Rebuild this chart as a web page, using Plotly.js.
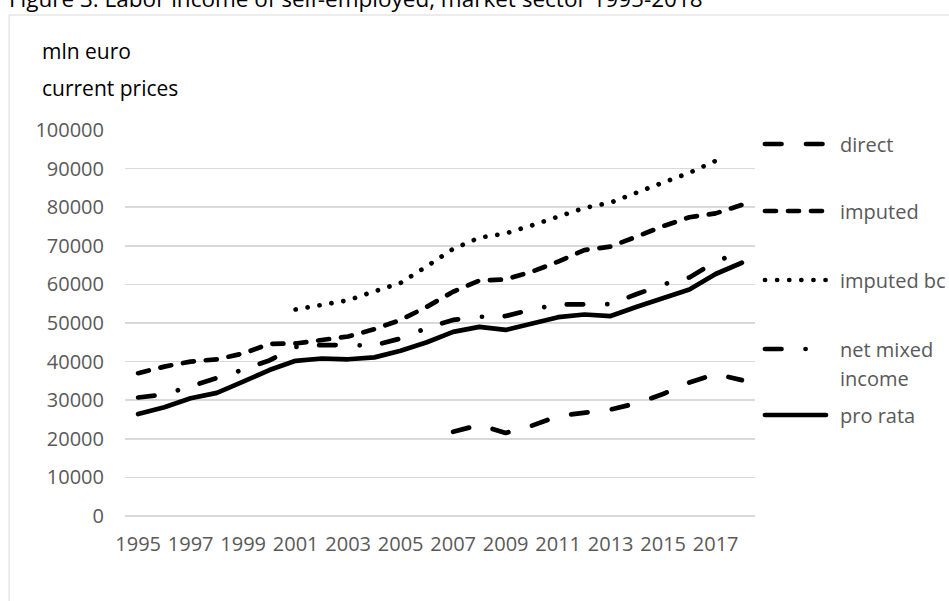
<!DOCTYPE html>
<html>
<head>
<meta charset="utf-8">
<script src="https://cdn.plot.ly/plotly-3.0.1.min.js"></script>
<style>
  html, body { margin: 0; padding: 0; background: #fff; }
  #chart { width: 949px; height: 601px; }
  .scatterlayer .js-line, .shapelayer path { stroke-linecap: round; stroke-linejoin: round; }
</style>
</head>
<body>
<div id="chart"></div>
<script>
// ---- data (mln euro, current prices) ----
const years = [1995, 1996, 1997, 1998, 1999, 2000, 2001, 2002, 2003, 2004, 2005, 2006,
               2007, 2008, 2009, 2010, 2011, 2012, 2013, 2014, 2015, 2016, 2017, 2018];
const tickYears = [1995, 1997, 1999, 2001, 2003, 2005, 2007, 2009, 2011, 2013, 2015, 2017];
const tickLabels = ["1995", "1997", "1999", "2001", "2003", "2005", "2007", "2009", "2011", "2013", "2015", "2017"];

const direct = [null, null, null, null, null, null, null, null, null, null, null, null,
                21800, 23600, 21500, 23400, 25900, 26900, 27600, 29200, 31600, 34600, 36800, 35200];
const imputed = [37000, 38700, 40000, 40600, 42100, 44600, 44700, 45600, 46500, 48400, 50800, 54200,
                 58100, 61000, 61300, 63300, 65900, 68900, 69800, 72400, 75100, 77400, 78400, 80600];
const imputedBc = [null, null, null, null, null, null, 53500, 54700, 55900, 58200, 60400, 64700,
                   69200, 72100, 73200, 75300, 77400, 79800, 81200, 83900, 86400, 88900, 92000, null];
const netMixed = [30700, 31500, 33600, 35700, 37900, 40300, 43800, 44300, 44300, 44200, 46000, 48700,
                  50800, 51600, 51800, 53500, 54800, 54800, 54900, 57500, 60000, 61800, 65900, 68500];
const proRata = [26400, 28200, 30500, 31900, 34800, 37800, 40200, 40800, 40600, 41100, 42800, 45000,
                 47700, 49000, 48200, 49900, 51500, 52200, 51800, 54200, 56400, 58700, 62700, 65600];

const seriesNames = ["direct", "imputed", "imputed bc", "net mixed", "pro rata"];
const seriesData = [direct, imputed, imputedBc, netMixed, proRata];

// ---- styles ----
const LW = 4.7;
const dashes = ["16.5px,24.5px", "11px,12px", "0.1px,12px", "16.5px,24px,0.1px,22.7px", "solid"];

// plot area in pixels: x 125..755, y 130..516
const PX0 = 125, PX1 = 755, PY0 = 130, PY1 = 516;
const px = v => (v - PX0) / (PX1 - PX0);
const py = v => (PY1 - v) / (PY1 - PY0);

const traces = seriesData.map((d, i) => ({
  x: years, y: d, name: seriesNames[i], type: "scatter", mode: "lines",
  line: { color: "#000000", width: LW, dash: dashes[i] },
  connectgaps: false, hoverinfo: "skip", showlegend: false
}));

// manual legend (long samples as in the original)
const legendY = [144, 211, 280, 349, 415];
const legendText = ["direct", "imputed", "imputed bc", "net mixed", "pro rata"];
const shapes = [
  // outer chart border (extends beyond the window on the right and bottom)
  { type: "rect", xref: "paper", yref: "paper", x0: px(9.5), x1: px(1200), y0: py(900), y1: py(15),
    line: { color: "#d9d9d9", width: 1 }, fillcolor: "rgba(0,0,0,0)", layer: "below" }
];
const annotations = [];
legendY.forEach((yy, i) => {
  shapes.push({ type: "line", xref: "paper", yref: "paper", x0: px(765), x1: px(826), y0: py(yy), y1: py(yy),
    line: { color: "#000000", width: LW, dash: dashes[i] } });
  annotations.push({ xref: "paper", yref: "paper", x: px(838), y: py(yy), xanchor: "left", yanchor: "middle",
    text: legendText[i], showarrow: false, font: { family: "Open Sans", size: 20, color: "#595959" } });
});
annotations.push({ xref: "paper", yref: "paper", x: px(838), y: py(378), xanchor: "left", yanchor: "middle",
  text: "income", showarrow: false, font: { family: "Open Sans", size: 20, color: "#595959" } });

// axis unit label and (cut-off) figure title
annotations.push({ xref: "paper", yref: "paper", x: px(40), y: py(51), xanchor: "left", yanchor: "middle",
  text: "mln euro", showarrow: false, font: { family: "Open Sans", size: 21, color: "#000000" } });
annotations.push({ xref: "paper", yref: "paper", x: px(40), y: py(88), xanchor: "left", yanchor: "middle",
  text: "current prices", showarrow: false, font: { family: "Open Sans", size: 21, color: "#000000" } });
annotations.push({ xref: "paper", yref: "paper", x: px(7), y: py(16), xanchor: "left", yanchor: "bottom",
  text: "Figure 3. Labor income of self-employed, market sector 1995-2018", showarrow: false,
  font: { family: "Open Sans", size: 22.5, color: "#000000" } });

const layout = {
  width: 949, height: 601,
  margin: { l: PX0, r: 949 - PX1, t: PY0, b: 601 - PY1, pad: 0 },
  paper_bgcolor: "#ffffff", plot_bgcolor: "#ffffff",
  font: { family: "Open Sans", size: 20, color: "#595959" },
  showlegend: false,
  xaxis: {
    range: [1994.5, 2018.5], tickmode: "array", tickvals: tickYears, ticktext: tickLabels,
    showgrid: false, zeroline: false, showline: false, ticks: "", ticklabelstandoff: 14,
    tickfont: { family: "Open Sans", size: 20, color: "#595959" }, fixedrange: true
  },
  yaxis: {
    range: [0, 100000], tickmode: "array",
    tickvals: [0, 10000, 20000, 30000, 40000, 50000, 60000, 70000, 80000, 90000, 100000],
    ticktext: ["0", "10000", "20000", "30000", "40000", "50000", "60000", "70000", "80000", "90000", "100000"],
    showgrid: true, gridcolor: "#d9d9d9", gridwidth: 1.5,
    zeroline: true, zerolinecolor: "#d9d9d9", zerolinewidth: 1.5,
    showline: false, ticks: "", ticklabelstandoff: 20,
    tickfont: { family: "Open Sans", size: 20, color: "#595959" }, fixedrange: true
  },
  shapes: shapes,
  annotations: annotations
};

Plotly.newPlot("chart", traces, layout, { staticPlot: true, displayModeBar: false });
</script>
</body>
</html>
